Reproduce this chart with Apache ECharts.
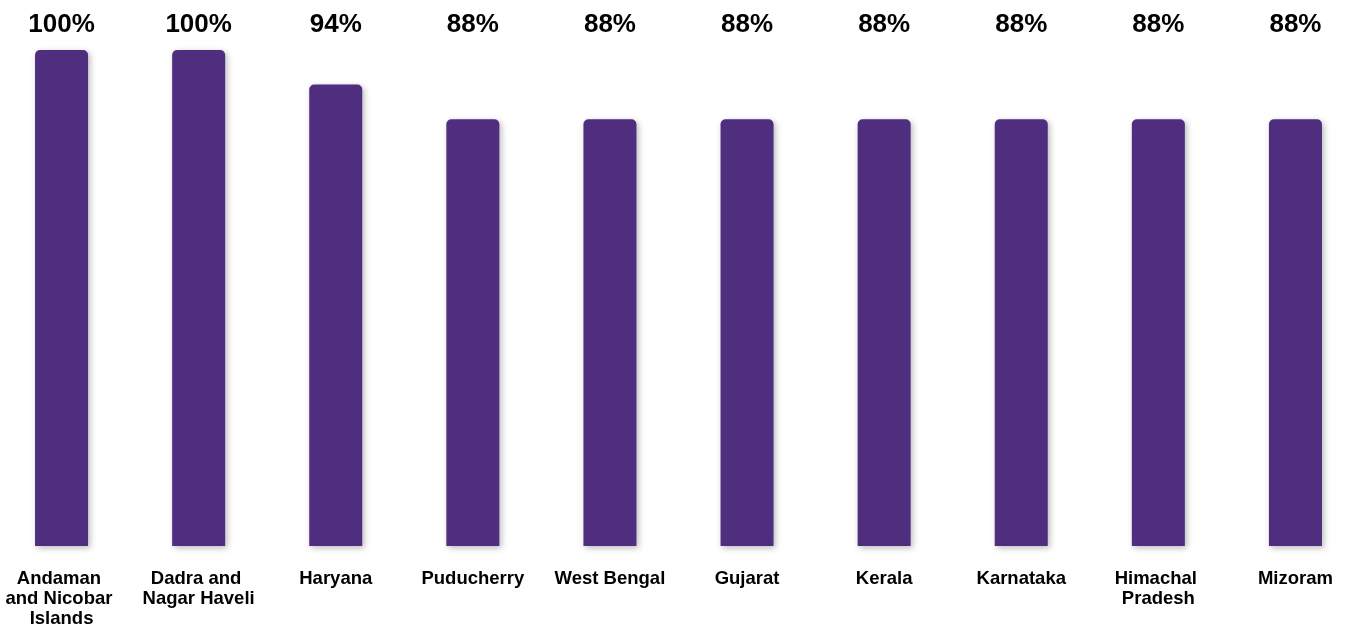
<!DOCTYPE html>
<html>
<head>
<meta charset="utf-8">
<style>
  html, body { margin: 0; padding: 0; background: #ffffff; }
  #chart { width: 1348px; height: 632px; }
</style>
<script src="https://cdn.jsdelivr.net/npm/echarts@6/dist/echarts.min.js"></script>
</head>
<body>
<div id="chart"></div>
<script>
// States / UTs and their share (%)
const states = [
  'Andaman and Nicobar Islands', 'Dadra and Nagar Haveli', 'Haryana', 'Puducherry',
  'West Bengal', 'Gujarat', 'Kerala', 'Karnataka', 'Himachal Pradesh', 'Mizoram'
];
const shares = [100, 100, 94, 88, 88, 88, 88, 88, 88, 88];

const BAR_COLOR = '#4F2D7F';
const FONT = 'Liberation Sans, Arial, Helvetica, sans-serif';

const chart = echarts.init(document.getElementById('chart'));

chart.setOption({
  animation: false,
  backgroundColor: '#ffffff',
  grid: {
    left: -7, width: 1371, top: 50, bottom: 86,
    containLabel: false,
    outerBoundsMode: 'none'
  },
  xAxis: [
    {
      type: 'category',
      data: states,
      position: 'bottom',
      axisLine: { show: false },
      axisTick: { show: false },
      axisLabel: {
        interval: 0,
        margin: 23,
        color: '#000',
        fontFamily: FONT,
        fontWeight: 'bold',
        fontSize: 18.5,
        lineHeight: 20,
        width: 116,
        overflow: 'break',
        align: 'center'
      }
    },
    {
      // percentage captions along the top edge
      type: 'category',
      data: states,
      position: 'top',
      axisLine: { show: false },
      axisTick: { show: false },
      axisLabel: {
        interval: 0,
        margin: 12,
        color: '#000',
        fontFamily: FONT,
        fontWeight: 'bold',
        fontSize: 26,
        formatter: (v, i) => shares[i] + '%'
      }
    }
  ],
  yAxis: {
    type: 'value',
    min: 14,
    max: 100,
    show: false,
    splitLine: { show: false }
  },
  series: [{
    type: 'bar',
    data: shares,
    barWidth: 53,
    itemStyle: {
      color: BAR_COLOR,
      borderRadius: [5, 5, 0, 0],
      shadowColor: 'rgba(0,0,0,0.28)',
      shadowBlur: 6,
      shadowOffsetX: 2,
      shadowOffsetY: 2
    }
  }]
});
</script>
</body>
</html>
